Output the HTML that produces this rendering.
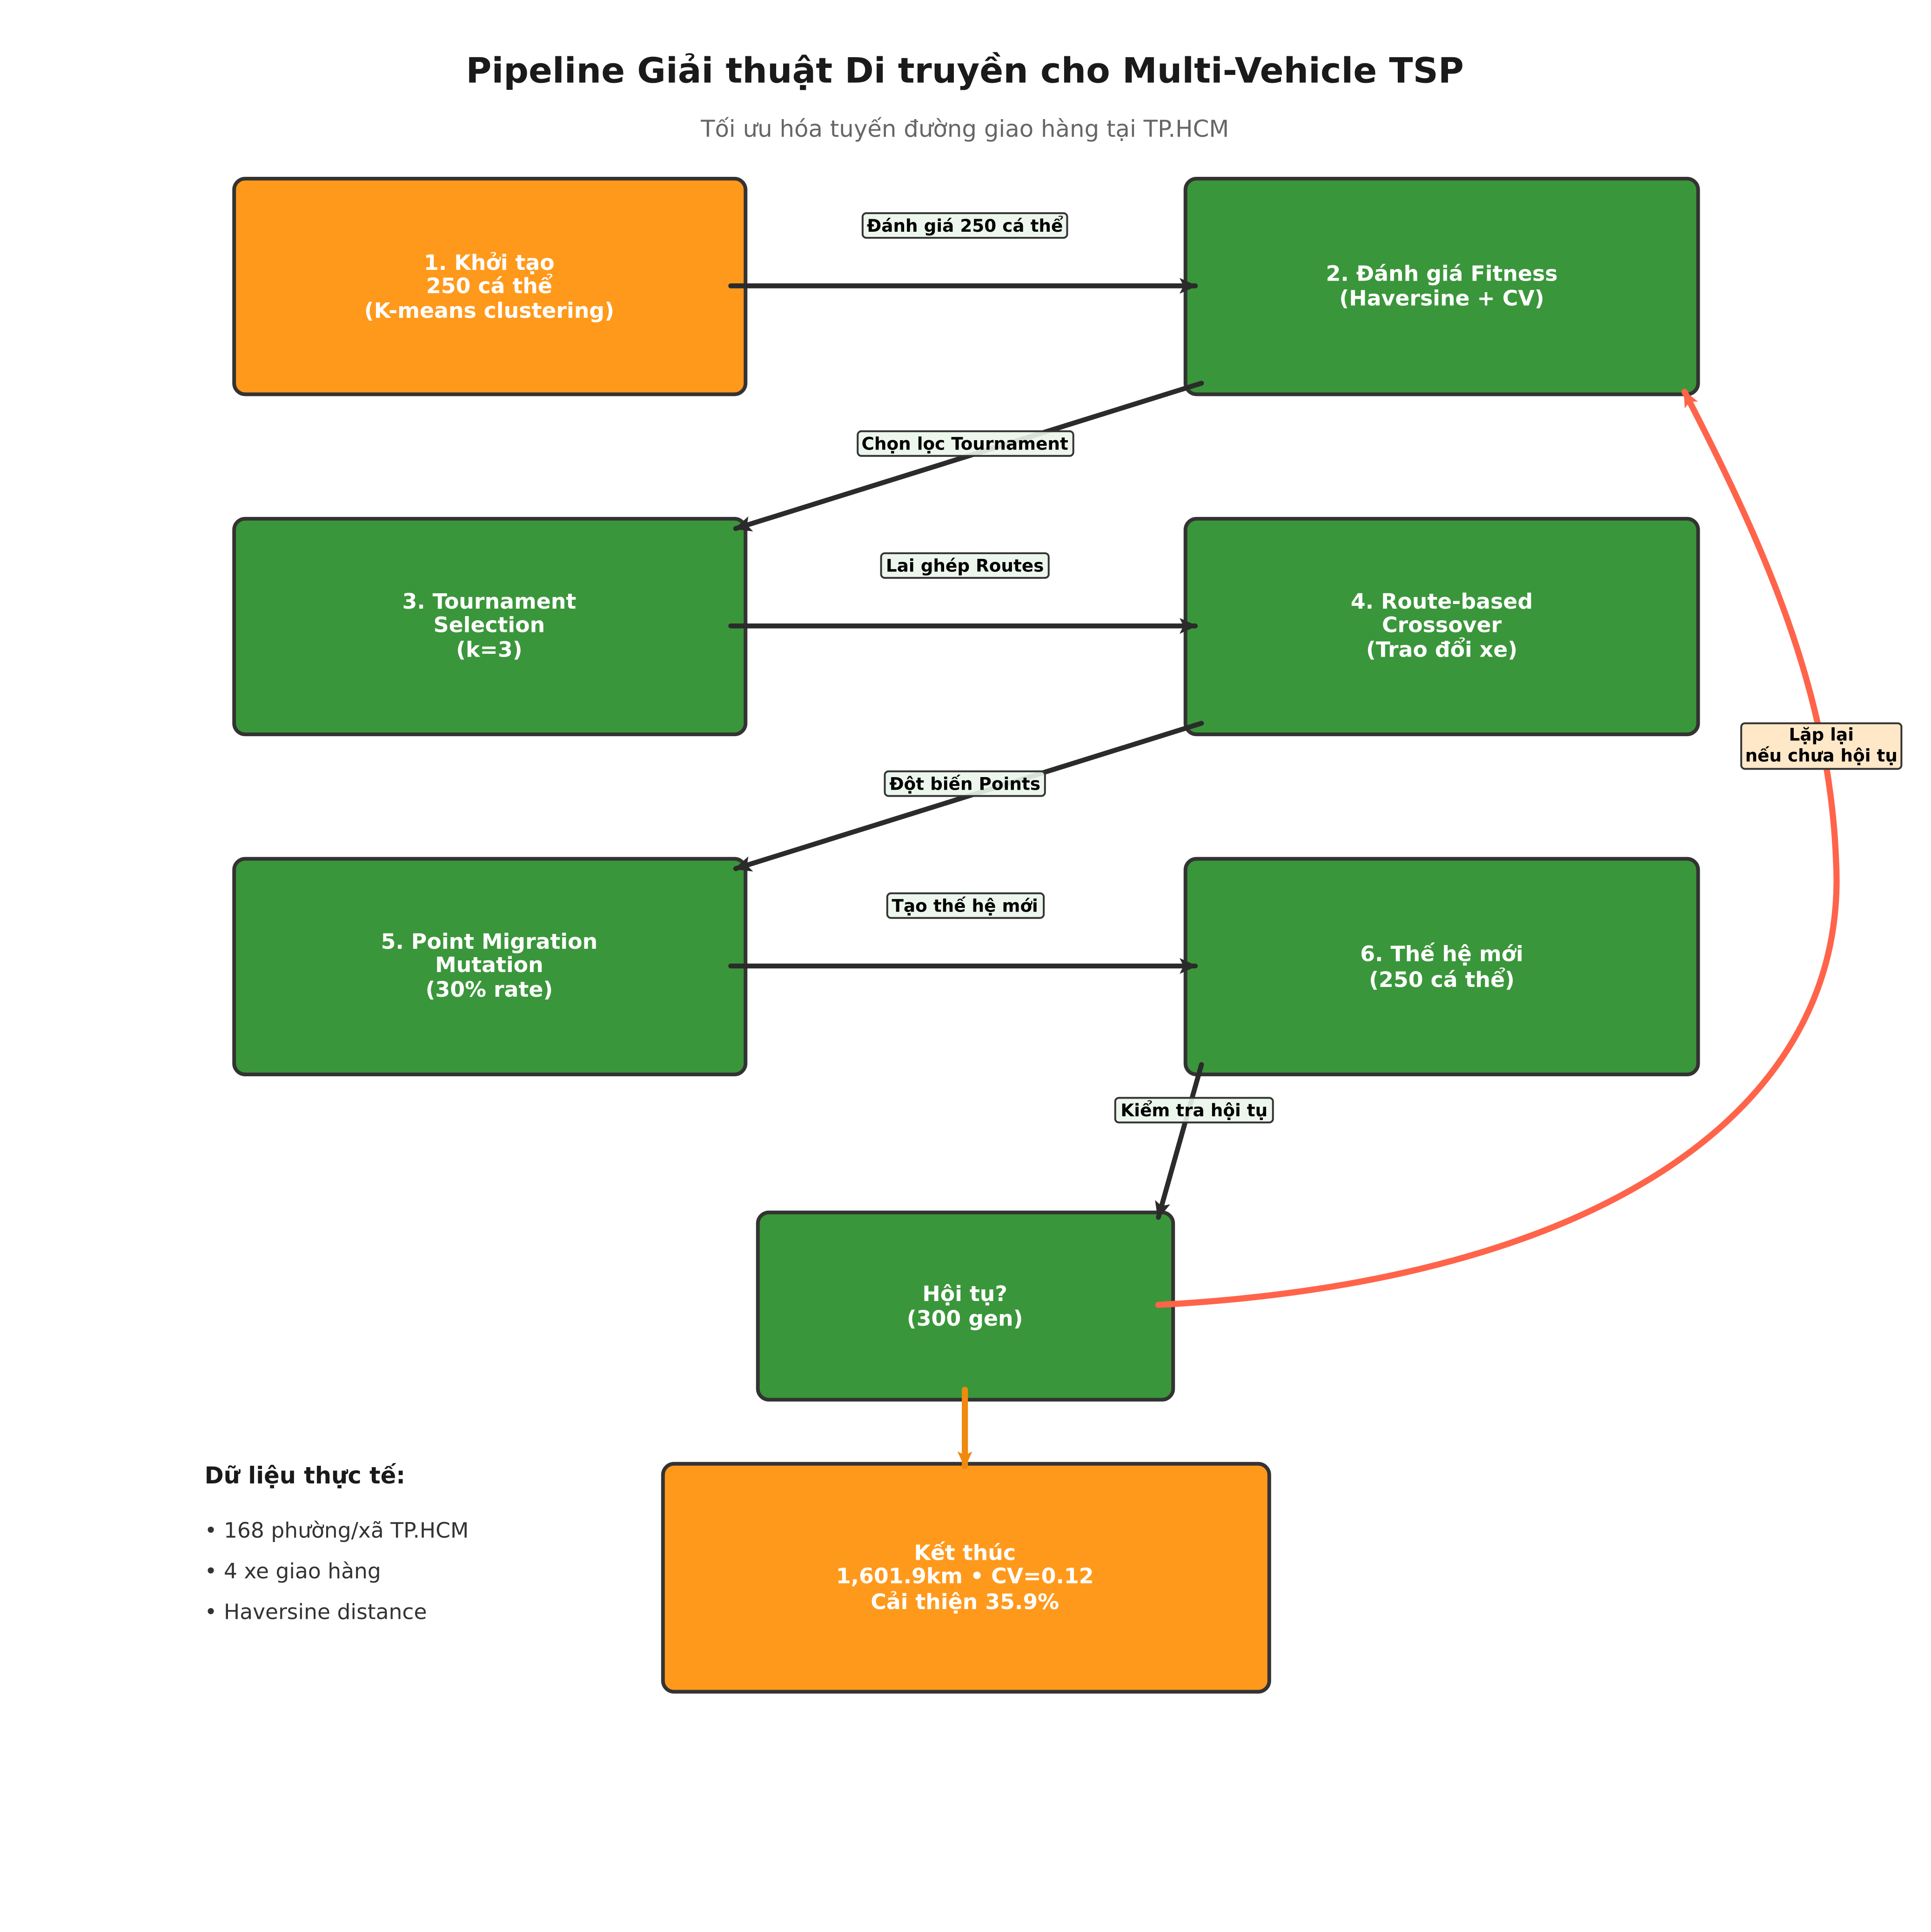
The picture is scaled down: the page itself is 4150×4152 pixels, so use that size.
<!DOCTYPE html>
<html><head><meta charset="utf-8"><style>
html,body{margin:0;padding:0;background:#fff;}
svg{display:block;}
text{font-family:"DejaVu Sans","Liberation Sans",sans-serif;}
</style></head><body>
<svg width="4150" height="4152" viewBox="0 0 1567 1568" preserveAspectRatio="none" xmlns="http://www.w3.org/2000/svg">
<defs>
<marker id="ah" viewBox="0 0 10 10" refX="8" refY="5" markerWidth="4" markerHeight="4" orient="auto"><path d="M0,1 L9,5 L0,9 L2,5z" fill="#2b2b2b"/></marker>
<marker id="ao" viewBox="0 0 10 10" refX="8" refY="5" markerWidth="3" markerHeight="3" orient="auto"><path d="M0,1 L9,5 L0,9 L2,5z" fill="#F0890F"/></marker>
<marker id="ar" viewBox="0 0 10 10" refX="8" refY="5" markerWidth="3" markerHeight="3" orient="auto"><path d="M0,1 L9,5 L0,9 L2,5z" fill="#FF644A"/></marker>
</defs>
<rect width="1567" height="1568" fill="#fff"/>
<text x="783" y="67" text-anchor="middle" font-size="28.4" font-weight="bold" fill="#1a1a1a">Pipeline Giải thuật Di truyền cho Multi-Vehicle TSP</text>
<text x="783" y="111" text-anchor="middle" font-size="18.8" fill="#666">Tối ưu hóa tuyến đường giao hàng tại TP.HCM</text>

<g stroke="#333" stroke-width="3">
<rect x="190" y="145" width="415" height="175" rx="9" fill="#FF991C"/>
<rect x="962" y="145" width="416" height="175" rx="9" fill="#3A963A"/>
<rect x="190" y="421" width="415" height="175" rx="9" fill="#3A963A"/>
<rect x="962" y="421" width="416" height="175" rx="9" fill="#3A963A"/>
<rect x="190" y="697" width="415" height="175" rx="9" fill="#3A963A"/>
<rect x="962" y="697" width="416" height="175" rx="9" fill="#3A963A"/>
<rect x="615" y="984" width="337" height="152" rx="9" fill="#3A963A"/>
<rect x="538" y="1188" width="492" height="185" rx="9" fill="#FF991C"/>
</g>

<g fill="#fff" font-size="17.3" font-weight="bold" text-anchor="middle">
<text x="397" y="219">1. Khởi tạo</text><text x="397" y="238">250 cá thể</text><text x="397" y="258">(K-means clustering)</text>
<text x="1170" y="228">2. Đánh giá Fitness</text><text x="1170" y="248">(Haversine + CV)</text>
<text x="397" y="494">3. Tournament</text><text x="397" y="513">Selection</text><text x="397" y="533">(k=3)</text>
<text x="1170" y="494">4. Route-based</text><text x="1170" y="513">Crossover</text><text x="1170" y="533">(Trao đổi xe)</text>
<text x="397" y="770">5. Point Migration</text><text x="397" y="789">Mutation</text><text x="397" y="809">(30% rate)</text>
<text x="1170" y="780">6. Thế hệ mới</text><text x="1170" y="801">(250 cá thể)</text>
<text x="783" y="1056">Hội tụ?</text><text x="783" y="1076">(300 gen)</text>
<text x="783" y="1266">Kết thúc</text><text x="783" y="1285">1,601.9km • CV=0.12</text><text x="783" y="1306">Cải thiện 35.9%</text>
</g>

<g stroke="#2b2b2b" stroke-width="4" stroke-linecap="round" marker-end="url(#ah)" fill="none">
<line x1="593" y1="232" x2="970" y2="232"/>
<line x1="975" y1="311" x2="597" y2="429"/>
<line x1="593" y1="508" x2="970" y2="508"/>
<line x1="975" y1="587" x2="597" y2="705"/>
<line x1="593" y1="784" x2="970" y2="784"/>
<line x1="975" y1="864" x2="940" y2="988"/>
</g>
<line x1="783" y1="1128" x2="783" y2="1190" stroke="#F0890F" stroke-width="5" stroke-linecap="round" marker-end="url(#ao)"/>
<path d="M940,1059 C1300,1040 1500,900 1490,700 C1485,560 1430,440 1367,318" stroke="#FF644A" stroke-width="5" fill="none" stroke-linecap="round" marker-end="url(#ar)"/>

<g font-size="14.1" font-weight="bold" text-anchor="middle" fill="#000">
<rect x="700" y="173" width="166" height="20" rx="3" fill="#EAF5EA" fill-opacity="0.9" stroke="#333" stroke-width="1.5"/>
<text x="783" y="188">Đánh giá 250 cá thể</text>
<rect x="696" y="350" width="175" height="20" rx="3" fill="#EAF5EA" fill-opacity="0.9" stroke="#333" stroke-width="1.5"/>
<text x="783" y="365">Chọn lọc Tournament</text>
<rect x="715" y="449" width="136" height="20" rx="3" fill="#EAF5EA" fill-opacity="0.9" stroke="#333" stroke-width="1.5"/>
<text x="783" y="464">Lai ghép Routes</text>
<rect x="718" y="626" width="130" height="20" rx="3" fill="#EAF5EA" fill-opacity="0.9" stroke="#333" stroke-width="1.5"/>
<text x="783" y="641">Đột biến Points</text>
<rect x="720" y="725" width="127" height="20" rx="3" fill="#EAF5EA" fill-opacity="0.9" stroke="#333" stroke-width="1.5"/>
<text x="783" y="740">Tạo thế hệ mới</text>
<rect x="905" y="891" width="128" height="20" rx="3" fill="#EAF5EA" fill-opacity="0.9" stroke="#333" stroke-width="1.5"/>
<text x="969" y="906">Kiểm tra hội tụ</text>
<rect x="1413" y="587" width="130" height="37" rx="3" fill="#FFE8C8" stroke="#333" stroke-width="1.5"/>
<text x="1478" y="601">Lặp lại</text>
<text x="1478" y="618">nếu chưa hội tụ</text>
</g>

<text x="166" y="1204" font-size="18.7" font-weight="bold" fill="#1a1a1a">Dữ liệu thực tế:</text>
<g font-size="17.2" fill="#333">
<text x="166" y="1248">• 168 phường/xã TP.HCM</text>
<text x="166" y="1281">• 4 xe giao hàng</text>
<text x="166" y="1314">• Haversine distance</text>
</g>
</svg>
</body></html>
